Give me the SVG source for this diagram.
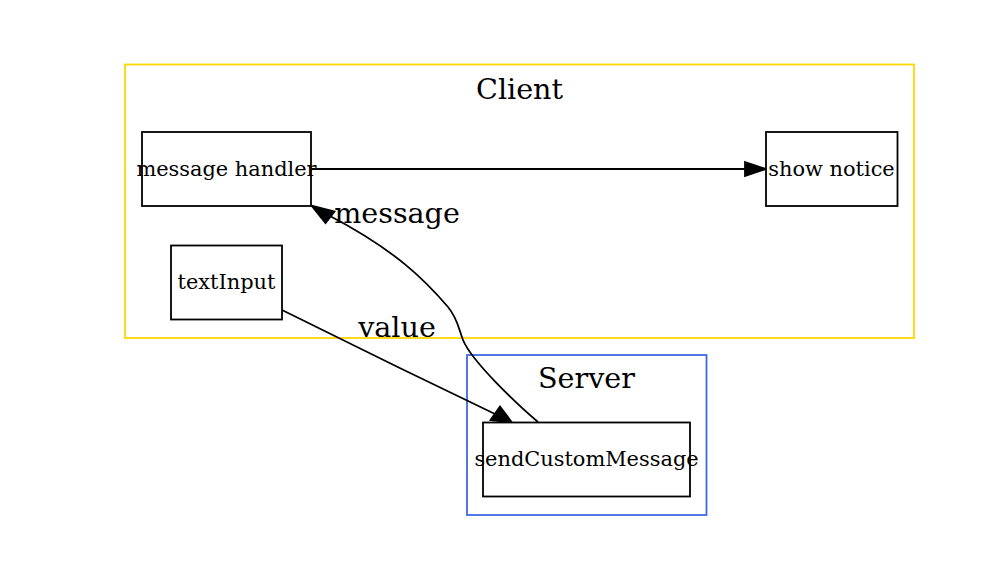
<svg xmlns="http://www.w3.org/2000/svg" width="1000" height="580" viewBox="0 0 1000 580">
<style>
.cluster{fill:none;stroke-width:1.8}
.node rect{fill:#fff;stroke:#000;stroke-width:1.8}
.nt{font-family:"DejaVu Serif","Liberation Serif",serif;font-size:20.9px;text-anchor:middle;fill:#000}
.lt{font-family:"DejaVu Serif","Liberation Serif",serif;font-size:28.6px;text-anchor:middle;fill:#000}
.edge{fill:none;stroke:#000;stroke-width:1.8}
.head{fill:#000;stroke:#000;stroke-width:1.8}
</style>
<rect width="1000" height="580" fill="#fff"/>
<g id="cluster_client">
<rect class="cluster" x="125" y="64.5" width="789" height="273.5" stroke="#FFD700"/>
<text class="lt" x="519.5" y="99">Client</text>
</g>
<g id="cluster_server">
<rect class="cluster" x="467" y="355" width="239.5" height="160" stroke="#4169E1"/>
<text class="lt" x="586.5" y="388">Server</text>
</g>
<g id="connectors">
<path class="edge" d="M311,169 L745,169"/>
<polygon class="head" points="745,162 766,169 745,176"/>
<path class="edge" d="M282,310 C340,339 430,383 495,414"/>
<polygon class="head" points="490.5,420 500,406.5 512,422.5"/>
<text class="lt" x="397" y="337">value</text>
<path class="edge" d="M538,422 C520,407 472,362 463,340 C459,330 458,319 448,307 C425,280 395,250 330,216"/>
<polygon class="head" points="311.5,205.5 334.5,211.5 325.5,223"/>
<text class="lt" x="397" y="223">message</text>
</g>
<g id="message_handler" class="node">
<rect x="142" y="132" width="169" height="74"/>
<text class="nt" x="226.5" y="176">message handler</text>
</g>
<g id="show_notice" class="node">
<rect x="766" y="132" width="131.5" height="74"/>
<text class="nt" x="831.5" y="176">show notice</text>
</g>
<g id="textInput" class="node">
<rect x="171" y="245.5" width="111" height="74"/>
<text class="nt" x="226.5" y="289">textInput</text>
</g>
<g id="sendCustomMessage" class="node">
<rect x="483" y="422.5" width="207" height="74"/>
<text class="nt" x="586.5" y="466">sendCustomMessage</text>
</g>
</svg>
